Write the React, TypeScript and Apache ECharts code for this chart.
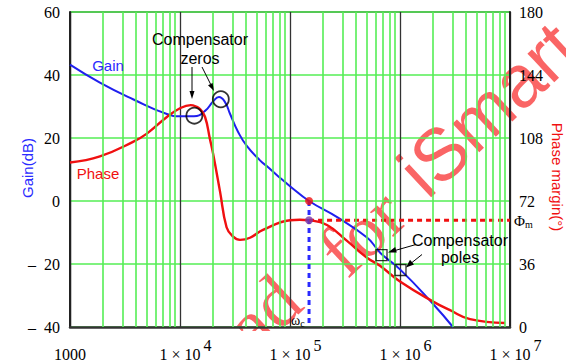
import React, { useEffect, useRef } from 'react';
import * as echarts from 'echarts';

// ---- data ----
const gainFreq = [1000, 1870, 3740, 7600, 10000, 13400, 16900, 20000, 22600, 25650, 28480, 33660, 40640, 53370, 61800, 76160, 100000, 149000, 273000, 501000, 618000, 686000, 1000000, 2000000, 3030000];
const gainDb = [43.3, 37.6, 32.3, 27.6, 26.9, 26.9, 28.6, 31.6, 33, 31.4, 27.7, 22, 17.4, 12.9, 11, 8.2, 4.7, 0, -5.3, -11.6, -15.2, -17, -21.7, -32.7, -40];

const phaseFreq = [1000, 1870, 3740, 5000, 7600, 10000, 12500, 14000, 15200, 16900, 18700, 20000, 23100, 26500, 30000, 35100, 43300, 56800, 100000, 123000, 149000, 217000, 330000, 501000, 658000, 1000000, 2000000, 2850000, 4330000, 9010000];
const phaseDeg = [94, 97.5, 105.8, 110.5, 120, 125, 126.8, 126, 124.5, 120, 107.5, 99, 77.5, 57, 52, 49.8, 51, 55.5, 61, 61.3, 61, 58.3, 49.2, 39.6, 35, 26, 14.5, 9.6, 4.5, 2.3];

const xTicks = [1000, 10000, 100000, 1000000, 10000000];
const gainTicks = [-40, -20, 0, 20, 40, 60];
const phaseTicks = [0, 36, 72, 108, 144, 180];
const minorMultipliers = [2, 3, 4, 5, 6, 7, 8, 9];

const crossoverFreq = 149000;
const crossoverGain = 0;
const phaseMargin = 61;
const zeroMarks = [[13500, 27.1], [23500, 32.3]];
const poleMarks = [[679000, -17.2], [1010000, -21.9]];

const SERIF = "'Liberation Serif', 'Times New Roman', serif";
const SANS = "'Liberation Sans', Arial, sans-serif";
const BLUE = '#1f1fee';
const RED = '#f01010';
const GREEN = '#55ee55';
const WM = 'rgba(248,50,50,0.75)';

export default function App() {
  const ref = useRef<HTMLDivElement>(null);
  useEffect(() => {
    if (!ref.current) return;
    const chart = echarts.init(ref.current, undefined, { renderer: 'svg' });

    const minorGrid: number[] = [];
    for (let d = 0; d < xTicks.length - 1; d++) {
      for (const m of minorMultipliers) minorGrid.push(xTicks[d] * m);
    }

    const rot = (43 * Math.PI) / 180;

    const option: any = {
      animation: false,
      grid: { left: 70, right: 56, top: 12, bottom: 32, containLabel: false },
      xAxis: {
        type: 'log',
        logBase: 10,
        min: xTicks[0],
        max: xTicks[xTicks.length - 1],
        axisLine: { show: true, onZero: false, lineStyle: { color: '#333', width: 2.5 } },
        axisTick: { show: false },
        splitLine: { show: true, lineStyle: { color: '#333', width: 1.3 } },
        axisLabel: {
          margin: 9,
          formatter: (v: number) => {
            if (v === 1000) return '{n|1000}';
            const e = Math.round(Math.log10(v));
            return `{sp|${e}}{n|1 × 10}{sup|${e}}`;
          },
          rich: {
            n: { fontFamily: SERIF, fontSize: 16, color: '#000', padding: [10, 0, 0, 0] },
            sup: { fontFamily: SERIF, fontSize: 16, color: '#000', padding: [0, 0, 8, 3] },
            sp: { fontFamily: SERIF, fontSize: 16, color: 'rgba(0,0,0,0)', padding: [0, 3, 8, 0] },
          },
        },
      },
      yAxis: [
        {
          type: 'value',
          min: gainTicks[0],
          max: gainTicks[gainTicks.length - 1],
          interval: 20,
          axisLine: { show: true, onZero: false, lineStyle: { color: '#222', width: 2 } },
          axisTick: { show: false },
          splitLine: { show: true, lineStyle: { color: GREEN, width: 1.6 } },
          axisLabel: {
            margin: 10,
            fontFamily: SERIF,
            fontSize: 16,
            color: '#000',
            formatter: (v: number) => (v < 0 ? `–  ${-v}` : `${v}`),
          },
        },
        {
          type: 'value',
          min: phaseTicks[0],
          max: phaseTicks[phaseTicks.length - 1],
          interval: 36,
          position: 'right',
          axisLine: { show: true, onZero: false, lineStyle: { color: '#222', width: 2 } },
          axisTick: { show: false },
          splitLine: { show: false },
          axisLabel: { margin: 9, fontFamily: SERIF, fontSize: 16, color: '#000' },
        },
      ],
      series: [
        {
          name: 'grid',
          type: 'line',
          data: [],
          z: 1,
          silent: true,
          markLine: {
            silent: true,
            symbol: ['none', 'none'],
            label: { show: false },
            lineStyle: { color: GREEN, width: 1.6, type: 'solid' },
            data: minorGrid.map((v) => ({ xAxis: v })),
          },
        },
        {
          name: 'Gain',
          type: 'line',
          yAxisIndex: 0,
          smooth: 0.5,
          showSymbol: false,
          lineStyle: { color: BLUE, width: 2 },
          data: gainFreq.map((f, i) => [f, gainDb[i]]),
          z: 3,
        },
        {
          name: 'Phase',
          type: 'line',
          yAxisIndex: 1,
          smooth: 0.45,
          showSymbol: false,
          lineStyle: { color: RED, width: 2.4 },
          data: phaseFreq.map((f, i) => [f, phaseDeg[i]]),
          z: 3,
        },
        {
          type: 'line',
          yAxisIndex: 0,
          showSymbol: false,
          lineStyle: { color: '#2a2aff', width: 3, type: [5, 4] },
          data: [[crossoverFreq, crossoverGain], [crossoverFreq, gainTicks[0]]],
          z: 4,
        },
        {
          type: 'line',
          yAxisIndex: 1,
          showSymbol: false,
          lineStyle: { color: RED, width: 3, type: [5, 4] },
          data: [[crossoverFreq, phaseMargin], [xTicks[xTicks.length - 1], phaseMargin]],
          z: 4,
        },
        {
          type: 'scatter',
          yAxisIndex: 0,
          symbolSize: 8,
          itemStyle: { color: RED },
          data: [[crossoverFreq, crossoverGain]],
          z: 5,
        },
        {
          type: 'scatter',
          yAxisIndex: 1,
          symbolSize: 8,
          itemStyle: { color: '#7a3aa8' },
          data: [[crossoverFreq, phaseMargin]],
          z: 5,
        },
        {
          type: 'scatter',
          yAxisIndex: 0,
          symbol: 'circle',
          symbolSize: 16,
          itemStyle: { color: 'rgba(0,0,0,0)', borderColor: '#000', borderWidth: 1.8 },
          data: zeroMarks,
          z: 6,
        },
        {
          type: 'scatter',
          yAxisIndex: 0,
          symbol: 'rect',
          symbolSize: 11,
          itemStyle: { color: 'rgba(0,0,0,0)', borderColor: '#000', borderWidth: 1.3 },
          data: poleMarks,
          z: 6,
        },
      ],
      graphic: [
        // watermark (behind grid and curves)
        {
          type: 'text', x: 289, y: 289, rotation: rot, z: -3, silent: true,
          style: { text: 'ad', fontFamily: SERIF, fontSize: 74, fill: WM, align: 'right', verticalAlign: 'middle' },
        },
        {
          type: 'text', x: 393, y: 203, rotation: rot, z: -3, silent: true,
          style: { text: 'for', fontFamily: SERIF, fontSize: 74, fill: WM, align: 'right', verticalAlign: 'middle' },
        },
        {
          type: 'text', x: 410, y: 182, rotation: rot, z: -3, silent: true,
          style: { text: 'iSmart', fontFamily: SANS, fontSize: 74, fill: WM, align: 'left', verticalAlign: 'middle' },
        },
        // white band under the plot hides the watermark there
        { type: 'rect', shape: { x: 0, y: 331, width: 566, height: 31 }, style: { fill: '#fff' }, z: -2, silent: true },
        { type: 'line', shape: { x1: 70, y1: 12, x2: 510, y2: 12 }, style: { stroke: '#222', lineWidth: 1.5 }, z: 0 },
        // axis names
        {
          type: 'text', x: 27, y: 168, rotation: Math.PI / 2,
          style: { text: 'Gain(dB)', fontFamily: SANS, fontSize: 15, fill: '#2a2aff', align: 'center', verticalAlign: 'middle' },
        },
        {
          type: 'text', x: 557, y: 177, rotation: -Math.PI / 2,
          style: { text: 'Phase margin(°)', fontFamily: SANS, fontSize: 15, fill: RED, align: 'center', verticalAlign: 'middle' },
        },
        // curve labels
        { type: 'text', x: 108, y: 65, style: { text: 'Gain', fontFamily: SANS, fontSize: 15, fill: '#2a2aff', align: 'center', verticalAlign: 'middle' }, z: 50 },
        { type: 'text', x: 98, y: 173, style: { text: 'Phase', fontFamily: SANS, fontSize: 15, fill: RED, align: 'center', verticalAlign: 'middle' }, z: 50 },
        // compensator zeros
        { type: 'text', x: 200, y: 39, style: { text: 'Compensator', fontFamily: SANS, fontSize: 16, fill: '#000', align: 'center', verticalAlign: 'middle' }, z: 50 },
        { type: 'text', x: 200, y: 58, style: { text: 'zeros', fontFamily: SANS, fontSize: 16, fill: '#000', align: 'center', verticalAlign: 'middle' }, z: 50 },
        { type: 'line', shape: { x1: 192, y1: 67, x2: 192, y2: 92 }, style: { stroke: '#000', lineWidth: 1 }, z: 50 },
        { type: 'polygon', shape: { points: [[192, 99], [189.5, 91], [194.5, 91]] }, style: { fill: '#000' }, z: 50 },
        { type: 'line', shape: { x1: 202, y1: 67, x2: 210.5, y2: 84 }, style: { stroke: '#000', lineWidth: 1 }, z: 50 },
        { type: 'polygon', shape: { points: [[214, 91], [208, 85.3], [212.6, 83]] }, style: { fill: '#000' }, z: 50 },
        // compensator poles
        { type: 'text', x: 460, y: 240, style: { text: 'Compensator', fontFamily: SANS, fontSize: 16, fill: '#000', align: 'center', verticalAlign: 'middle' }, z: 50 },
        { type: 'text', x: 460, y: 257, style: { text: 'poles', fontFamily: SANS, fontSize: 16, fill: '#000', align: 'center', verticalAlign: 'middle' }, z: 50 },
        { type: 'line', shape: { x1: 416, y1: 244.5, x2: 395, y2: 250.5 }, style: { stroke: '#000', lineWidth: 1 }, z: 50 },
        { type: 'polygon', shape: { points: [[388, 252.5], [395.2, 247], [396.8, 252.6]] }, style: { fill: '#000' }, z: 50 },
        { type: 'line', shape: { x1: 422, y1: 254.5, x2: 412, y2: 262.5 }, style: { stroke: '#000', lineWidth: 1 }, z: 50 },
        { type: 'polygon', shape: { points: [[406, 267.5], [410, 259.8], [414, 264.5]] }, style: { fill: '#000' }, z: 50 },
        // omega_c and phi_m
        {
          type: 'text', x: 291, y: 320, z: 50,
          style: { text: '{a|ω}{b|c}', align: 'left', verticalAlign: 'middle', rich: { a: { fontFamily: SERIF, fontSize: 14, color: '#000' }, b: { fontFamily: SERIF, fontSize: 10, color: '#000', padding: [6, 0, 0, 0] } } },
        },
        {
          type: 'text', x: 514, y: 221, z: 50,
          style: { text: '{a|Φ}{b|m}', align: 'left', verticalAlign: 'middle', rich: { a: { fontFamily: SERIF, fontSize: 15, color: '#000' }, b: { fontFamily: SERIF, fontSize: 10, color: '#000', padding: [7, 0, 0, 0] } } },
        },
      ],
    };

    chart.setOption(option);
    return () => chart.dispose();
  }, []);

  return (
    <div
      ref={ref}
      style={{ position: 'fixed', left: 0, top: 0, width: 566, height: 362, background: '#fff' }}
    />
  );
}
